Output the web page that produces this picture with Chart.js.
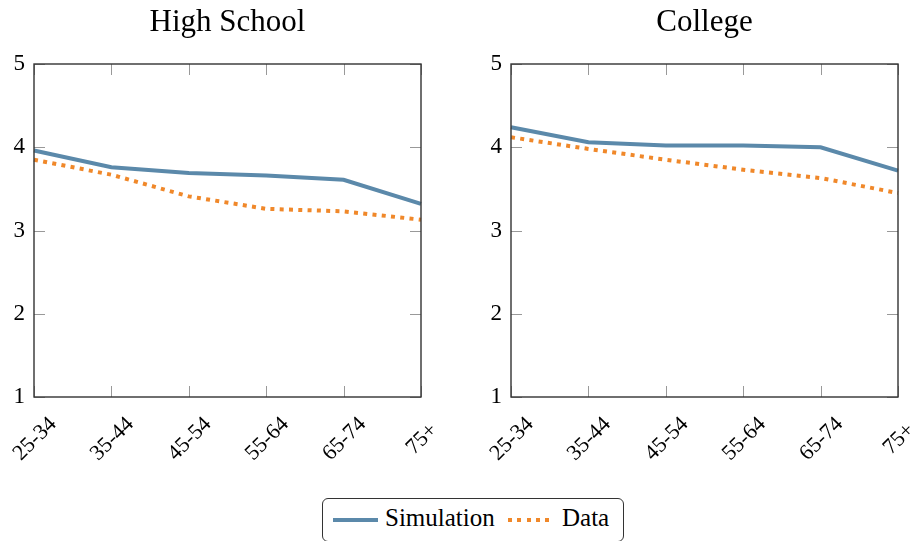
<!DOCTYPE html>
<html>
<head>
<meta charset="utf-8">
<script src="https://cdn.jsdelivr.net/npm/chart.js@4.4.0/dist/chart.umd.min.js"></script>
<style>
  html, body { margin: 0; padding: 0; background: #fff; overflow: hidden; }
  body { width: 917px; height: 541px; position: relative; font-family: "Liberation Serif", serif; }
  canvas { position: absolute; top: 0; }
  #legend {
    position: absolute; left: 322px; top: 498px; width: 302px; height: 44px;
    border: 1px solid #333; border-radius: 6px; box-sizing: border-box;
    font-size: 25px; color: #000;
  }
  #legend .item { position: absolute; top: 4px; line-height: 30px; }
  #legend .swatch { position: absolute; height: 4px; }
</style>
</head>
<body>
<canvas id="hsChart" width="440" height="480" style="left:0"></canvas>
<canvas id="colChart" width="440" height="480" style="left:477px"></canvas>
<div id="legend">
  <span class="swatch" style="left:10px; top:19px; width:45px; background:#5b89aa"></span>
  <span class="item" style="left:62px">Simulation</span>
  <span class="swatch" style="left:185px; top:19px; width:43px; background:repeating-linear-gradient(90deg,#f0882a 0 4px,transparent 4px 9.3px)"></span>
  <span class="item" style="left:239px">Data</span>
</div>
<script>
const ageGroups = ["25-34", "35-44", "45-54", "55-64", "65-74", "75+"];
const yTicks = [1, 2, 3, 4, 5];

const hsSimulation = [3.96, 3.76, 3.69, 3.66, 3.61, 3.32];
const hsData = [3.85, 3.67, 3.41, 3.26, 3.23, 3.13];

const colSimulation = [4.24, 4.06, 4.02, 4.02, 4.00, 3.72];
const colData = [4.12, 3.98, 3.85, 3.73, 3.63, 3.45];

const blue = "#5b89aa";
const orange = "#f0882a";
const serif = "'Liberation Serif', serif";

// pgfplots style frame: box around the plot, ticks pointing inward on all sides
const framePlugin = {
    id: "frame",
    afterDatasetsDraw(chart) {
        const { ctx, chartArea: a, scales } = chart;
        const len = 11;
        ctx.save();
        ctx.strokeStyle = "#999";
        ctx.lineWidth = 1;
        scales.x.ticks.forEach((t, i) => {
            const x = Math.round(scales.x.getPixelForTick(i)) + 0.5;
            ctx.beginPath();
            ctx.moveTo(x, a.bottom); ctx.lineTo(x, a.bottom - len);
            ctx.moveTo(x, a.top); ctx.lineTo(x, a.top + len);
            ctx.stroke();
        });
        scales.y.ticks.forEach((t, i) => {
            const y = Math.round(scales.y.getPixelForTick(i)) + 0.5;
            ctx.beginPath();
            ctx.moveTo(a.left, y); ctx.lineTo(a.left + len, y);
            ctx.moveTo(a.right, y); ctx.lineTo(a.right - len, y);
            ctx.stroke();
        });
        ctx.strokeStyle = "#333";
        ctx.lineWidth = 1.4;
        ctx.strokeRect(a.left, a.top, a.right - a.left, a.bottom - a.top);
        ctx.restore();
    }
};

// x labels rotated 45deg and centred under their tick (Chart.js right-aligns rotated labels)
const xLabels = {
    id: "xLabels",
    afterDraw(chart) {
        const { ctx, chartArea: a, scales } = chart;
        ctx.save();
        ctx.font = "22px " + serif;
        ctx.fillStyle = "#000";
        ctx.textAlign = "center";
        ctx.textBaseline = "middle";
        ageGroups.forEach((lab, i) => {
            ctx.save();
            ctx.translate(scales.x.getPixelForValue(i) + 1, a.bottom + 42);
            ctx.rotate(-Math.PI / 4);
            ctx.fillText(lab, 0, 0);
            ctx.restore();
        });
        ctx.restore();
    }
};

// title centred over the plot area rather than the whole canvas
const panelTitle = {
    id: "panelTitle",
    afterDraw(chart, args, opts) {
        const { ctx, chartArea: a } = chart;
        ctx.save();
        ctx.font = "31px " + serif;
        ctx.fillStyle = "#000";
        ctx.textAlign = "center";
        ctx.textBaseline = "alphabetic";
        ctx.fillText(opts.text, (a.left + a.right) / 2, 31);
        ctx.restore();
    }
};

function makePanel(id, title, sim, data) {
    new Chart(document.getElementById(id), {
        type: "line",
        data: {
            labels: ageGroups,
            datasets: [
                {
                    label: "Simulation",
                    data: sim,
                    borderColor: blue,
                    borderWidth: 4,
                    pointRadius: 0,
                    tension: 0,
                    borderCapStyle: "butt"
                },
                {
                    label: "Data",
                    data: data,
                    borderColor: orange,
                    borderWidth: 4,
                    borderDash: [4, 5.3],
                    pointRadius: 0,
                    tension: 0,
                    borderCapStyle: "butt"
                }
            ]
        },
        options: {
            responsive: false,
            devicePixelRatio: 1,
            animation: false,
            layout: { padding: { top: 64, right: 19, bottom: 0, left: 0 } },
            plugins: {
                legend: { display: false },
                tooltip: { enabled: false },
                panelTitle: { text: title }
            },
            scales: {
                x: {
                    offset: false,
                    grid: { display: false, drawTicks: false },
                    border: { display: false },
                    ticks: { display: false },
                    afterFit: scale => {
                        scale.height = 83;
                        scale.paddingLeft = 0;
                        scale.paddingRight = 0;
                    }
                },
                y: {
                    min: 1,
                    max: 5,
                    grid: { display: false, drawTicks: false },
                    border: { display: false },
                    afterBuildTicks: scale => {
                        scale.ticks = yTicks.map(v => ({ value: v }));
                    },
                    ticks: {
                        padding: 9,
                        color: "#000",
                        font: { family: serif, size: 23 }
                    },
                    afterFit: scale => { scale.width = 34; }
                }
            }
        },
        plugins: [framePlugin, xLabels, panelTitle]
    });
}

makePanel("hsChart", "High School", hsSimulation, hsData);
makePanel("colChart", "College", colSimulation, colData);
</script>
</body>
</html>
